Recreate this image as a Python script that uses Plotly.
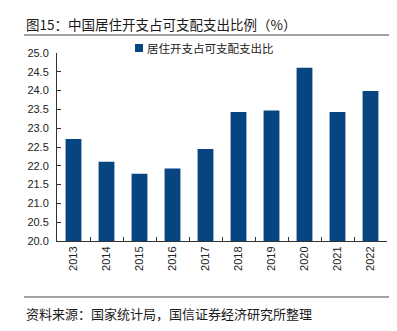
import plotly.graph_objects as go

years = ["2013", "2014", "2015", "2016", "2017", "2018", "2019", "2020", "2021", "2022"]
share = [22.71, 22.11, 21.79, 21.93, 22.45, 23.43, 23.47, 24.61, 23.43, 23.99]
y_ticks = [20.0, 20.5, 21.0, 21.5, 22.0, 22.5, 23.0, 23.5, 24.0, 24.5, 25.0]
series_name = "居住开支占可支配支出比"
title_text = "图15：中国居住开支占可支配支出比例（%）"
source_text = "资料来源：国家统计局，国信证券经济研究所整理"

BAR = "#064580"
CJK = "Noto Sans CJK SC"
NUM = "Liberation Sans, Arial, sans-serif"

fig = go.Figure()
fig.add_trace(go.Bar(x=years, y=share, name=series_name, marker=dict(color=BAR, line=dict(width=0)),
                     showlegend=False))

L, R, T, B = 57, 10, 53, 90
W, H = 397, 331
ph = H - T - B
pw = W - L - R

def px_x(px):
    return (px - L) / pw

def px_y(py):
    return (H - B - py) / ph

fig.update_layout(
    width=W, height=H,
    margin=dict(l=L, r=R, t=T, b=B),
    paper_bgcolor="white", plot_bgcolor="white",
    bargap=0.52,
    font=dict(family=NUM, size=11, color="#222"),
    showlegend=False,
    xaxis=dict(type="category", showline=True, linecolor="#333", linewidth=1,
               ticks="inside", tickson="boundaries", ticklen=4, tickcolor="#333",
               tickangle=-90, tickfont=dict(family=NUM, size=11, color="#222"),
               showgrid=False, zeroline=False),
    yaxis=dict(range=[20, 25], tickvals=y_ticks, ticktext=[f"{v:.1f}" for v in y_ticks],
               showline=True, linecolor="#333", linewidth=1, ticks="inside", ticklen=4,
               tickcolor="#333", tickfont=dict(family=NUM, size=11, color="#222"),
               ticklabelstandoff=5,
               showgrid=False, zeroline=False),
)

# legend (swatch + label)
fig.add_shape(type="rect", xref="paper", yref="paper", x0=px_x(135), x1=px_x(143),
              y0=px_y(52), y1=px_y(44), fillcolor=BAR, line=dict(width=0))
fig.add_annotation(text=series_name, xref="paper", yref="paper", x=px_x(145), y=px_y(48),
                   xanchor="left", yanchor="middle", showarrow=False,
                   font=dict(family=CJK, size=11.5, color="#222"))

fig.add_annotation(text=title_text, xref="paper", yref="paper", x=px_x(24), y=px_y(24),
                   xanchor="left", yanchor="middle", showarrow=False,
                   font=dict(family=CJK, size=13.5, color="#1a1a1a"))
fig.add_annotation(text=source_text, xref="paper", yref="paper", x=px_x(24), y=px_y(313),
                   xanchor="left", yanchor="middle", showarrow=False,
                   font=dict(family=CJK, size=13, color="#1a1a1a"))
fig.add_shape(type="line", xref="paper", yref="paper", x0=px_x(24), x1=px_x(389),
              y0=px_y(35), y1=px_y(35), line=dict(color="#444", width=1))
fig.add_shape(type="line", xref="paper", yref="paper", x0=px_x(24), x1=px_x(389),
              y0=px_y(297), y1=px_y(297), line=dict(color="#444", width=1))

fig.write_html("out.html")
